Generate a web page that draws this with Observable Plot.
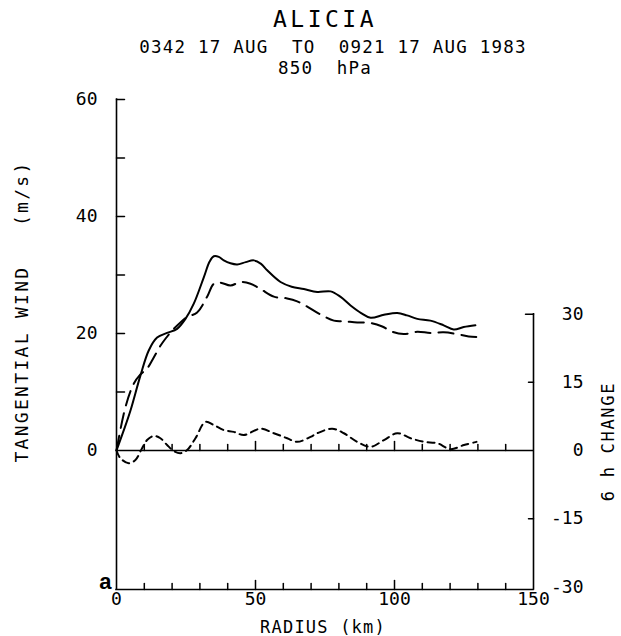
<!DOCTYPE html>
<html><head><meta charset="utf-8">
<script src="https://cdn.jsdelivr.net/npm/d3@7"></script>
<script src="https://cdn.jsdelivr.net/npm/@observablehq/plot@0.6"></script>
<style>body{margin:0;background:#fff}</style>
</head><body><div id="chart"></div>
<script>
// ---- text ----
const title = "ALICIA";
const subtitle = "0342 17 AUG  TO  0921 17 AUG 1983";
const level = "850  hPa";
const xLabel = "RADIUS (km)";
const yLabel = "TANGENTIAL WIND   (m/s)";
const y2Label = "6 h CHANGE";
const panelLabel = "a";

// ---- axes / ticks ----
const xDomain = [0, 150];
const yDomain = [-23.76, 60];          // left axis (m/s)
const y2Domain = [-30, 30];            // right axis (6 h change)
const y2Top = 23.3;                    // left-axis value where right axis reads 30
const xTicks = [0, 50, 100, 150];
const xMinorTicks = [10, 20, 30, 40, 60, 70, 80, 90, 110, 120, 130, 140];
const xMajorTicks = [50, 100];
const yTicks = [0, 20, 40, 60];
const yMinorTicks = [10, 20, 30, 40, 50, 60];
const y2Ticks = [-30, -15, 0, 15, 30];
const y2InnerTicks = [-15, 15];
const y2CapTick = [30];

// ---- series ----
// solid: tangential wind (m/s)
const solidRadius = [0, 2.5, 5.0, 8.6, 11.6, 14.6, 18.2, 21.8, 24.8, 27.8, 31.4, 33.5, 35.0, 36.8, 38.6, 41.0, 43.4, 46.5, 49.4, 52.0, 54.2, 59.0, 63.0, 67.4, 72.2, 77.0, 80.5, 84.2, 88.0, 91.4, 96.2, 101.0, 104.5, 108.2, 112.9, 117.7, 121.3, 124.9, 129.1];
const solidWind   = [0, 3.3, 6.8, 12.8, 17.1, 19.3, 20.1, 20.8, 22.5, 25.1, 29.6, 32.3, 33.2, 33.1, 32.5, 32.0, 31.8, 32.2, 32.5, 31.9, 30.8, 28.8, 28.0, 27.6, 27.1, 27.2, 26.3, 24.8, 23.5, 22.7, 23.2, 23.5, 23.1, 22.5, 22.2, 21.4, 20.7, 21.1, 21.4];
// long dash: tangential wind (m/s)
const dashRadius = [0, 3.2, 6.2, 8.6, 11.0, 13.4, 15.8, 17.6, 20.0, 23.0, 25.4, 29.0, 32.6, 35.0, 37.4, 41.0, 44.6, 48.2, 51.8, 56.6, 61.4, 65.0, 68.6, 72.8, 78.2, 81.8, 86.6, 91.4, 95.6, 99.2, 103.3, 108.2, 112.9, 117.7, 122.5, 126.7, 129.5];
const dashWind   = [0, 7.4, 11.4, 13.0, 14.0, 15.9, 17.9, 19.1, 20.5, 21.9, 22.8, 23.6, 26.3, 28.5, 28.7, 28.2, 28.8, 28.5, 27.6, 26.3, 26.0, 25.5, 24.6, 23.4, 22.2, 22.1, 21.9, 21.8, 21.2, 20.3, 19.9, 20.3, 20.1, 20.2, 19.9, 19.5, 19.4];
// short dash: 6 h change (right axis)
const changeRadius = [0, 1.4, 4.4, 6.8, 9.2, 11.0, 13.4, 15.8, 18.2, 20.6, 23.0, 25.4, 28.4, 32.0, 35.0, 38.6, 42.2, 45.8, 51.8, 56.6, 61.4, 65.0, 69.8, 72.2, 77.6, 81.8, 86.6, 91.4, 96.2, 101.0, 105.8, 110.6, 115.4, 120.1, 125.0, 129.5];
const changeValue  = [0, -1.7, -2.8, -2.1, 0.5, 2.3, 3.2, 2.7, 1.2, -0.1, -0.6, 0.1, 2.7, 6.3, 5.6, 4.5, 4.1, 3.4, 4.8, 3.8, 2.7, 1.9, 3.0, 3.8, 4.8, 3.8, 1.9, 0.8, 2.3, 3.8, 2.7, 1.9, 1.6, 0.3, 1.2, 1.9];

// ---- build ----
const k = y2Top / y2Domain[1];
const solid = solidRadius.map((r, i) => ({r, v: solidWind[i]}));
const dashed = dashRadius.map((r, i) => ({r, v: dashWind[i]}));
const change = changeRadius.map((r, i) => ({r, v: changeValue[i] * k}));

const tickRight = {draw(c, l) { c.moveTo(0, 0); c.lineTo(l, 0); }};
const tickLeft  = {draw(c, l) { c.moveTo(0, 0); c.lineTo(-l, 0); }};
const tickUp    = {draw(c, l) { c.moveTo(0, 0); c.lineTo(0, -l); }};

const mono = "DejaVu Sans Mono";
const ink = "black";
const tk = {anchor: "start", stroke: ink, strokeWidth: 1.5};

const chart = Plot.plot({
  width: 621,
  height: 636,
  marginLeft: 116,
  marginRight: 88,
  marginTop: 99,
  marginBottom: 47,
  style: {fontFamily: mono, background: "white", color: ink, overflow: "visible"},
  x: {domain: xDomain},
  y: {domain: yDomain},
  marks: [
    // axis lines
    Plot.ruleX([xDomain[0]], {y1: yDomain[0], y2: yDomain[1], stroke: ink, strokeWidth: 1.6, strokeLinecap: "square"}),
    Plot.ruleX([xDomain[1]], {y1: yDomain[0], y2: y2Domain[1] * k, stroke: ink, strokeWidth: 1.6, strokeLinecap: "square"}),
    Plot.ruleY([yDomain[0]], {x1: xDomain[0], x2: xDomain[1], stroke: ink, strokeWidth: 1.6, strokeLinecap: "square"}),
    Plot.ruleY([0], {x1: xDomain[0], x2: xDomain[1], stroke: ink, strokeWidth: 1.6}),
    // ticks
    Plot.vector(yMinorTicks, {x: d => xDomain[0], y: d => d, length: 8, shape: tickRight, ...tk}),
    Plot.vector(y2InnerTicks, {x: d => xDomain[1], y: d => d * k, length: 5, shape: tickLeft, ...tk}),
    Plot.vector(y2CapTick, {x: d => xDomain[1], y: d => d * k, length: 8, shape: tickLeft, ...tk}),
    Plot.vector(xMinorTicks, {x: d => d, y: d => 0, length: 6, shape: tickUp, ...tk}),
    Plot.vector(xMajorTicks, {x: d => d, y: d => 0, length: 9, shape: tickUp, ...tk}),
    Plot.vector(xMinorTicks, {x: d => d, y: d => yDomain[0], length: 6, shape: tickUp, ...tk}),
    Plot.vector(xMajorTicks, {x: d => d, y: d => yDomain[0], length: 9, shape: tickUp, ...tk}),
    // tick labels
    Plot.axisY(yTicks, {anchor: "left", tickSize: 0, tickPadding: 19, fontSize: 18, fontFamily: mono, label: null}),
    Plot.axisX(xTicks, {anchor: "bottom", tickSize: 0, tickPadding: 3, fontSize: 18, fontFamily: mono, label: null}),
    Plot.axisY(y2Ticks.map(d => d * k), {anchor: "right", tickSize: 0, tickPadding: 50, textAnchor: "end", fontSize: 18, fontFamily: mono, label: null,
      tickFormat: d => String(Math.round(d / k))}),
    // data
    Plot.line(solid, {x: "r", y: "v", curve: "catmull-rom", stroke: ink, strokeWidth: 2}),
    Plot.line(dashed, {x: "r", y: "v", curve: "catmull-rom", stroke: ink, strokeWidth: 2, strokeDasharray: "15,8"}),
    Plot.line(change, {x: "r", y: "v", curve: "catmull-rom", stroke: ink, strokeWidth: 2, strokeDasharray: "7,5"}),
    // titles and labels
    Plot.text([title], {text: d => d, frameAnchor: "top", textAnchor: "middle", dy: -73, lineAnchor: "bottom", fontSize: 23, fontFamily: mono}),
    Plot.text([subtitle], {text: d => d, frameAnchor: "top", textAnchor: "middle", dx: 8, dy: -47, lineAnchor: "bottom", fontSize: 17.5, fontFamily: mono}),
    Plot.text([level], {text: d => d, frameAnchor: "top", textAnchor: "middle", dy: -26, lineAnchor: "bottom", fontSize: 17.5, fontFamily: mono}),
    Plot.text([xLabel], {text: d => d, frameAnchor: "bottom", textAnchor: "middle", dx: -2, dy: 43, lineAnchor: "bottom", fontSize: 17, fontFamily: mono}),
    Plot.text([yLabel], {text: d => d, frameAnchor: "left", textAnchor: "middle", dx: -94, dy: -33, rotate: -90, fontSize: 18, fontFamily: mono}),
    Plot.text([y2Label], {text: d => d, frameAnchor: "right", textAnchor: "middle", dx: 75, dy: 97, rotate: -90, fontSize: 17, fontFamily: mono}),
    Plot.text([panelLabel], {text: d => d, frameAnchor: "bottom-left", dx: -5, dy: -1, textAnchor: "end", lineAnchor: "bottom", fontSize: 22, fontWeight: "bold", fontFamily: "Liberation Sans"})
  ]
});

// letter spacing for the plotter-style lettering
const spacing = new Map([[title, 3.5], [subtitle, 1.2], [level, 1.2], [xLabel, 1.2], [yLabel, 2.3], [y2Label, 1.7]]);
d3.select(chart).selectAll("text").each(function () {
  const s = spacing.get(this.textContent);
  if (s) this.setAttribute("letter-spacing", s);
});
document.getElementById("chart").append(chart);
</script>
</body></html>
